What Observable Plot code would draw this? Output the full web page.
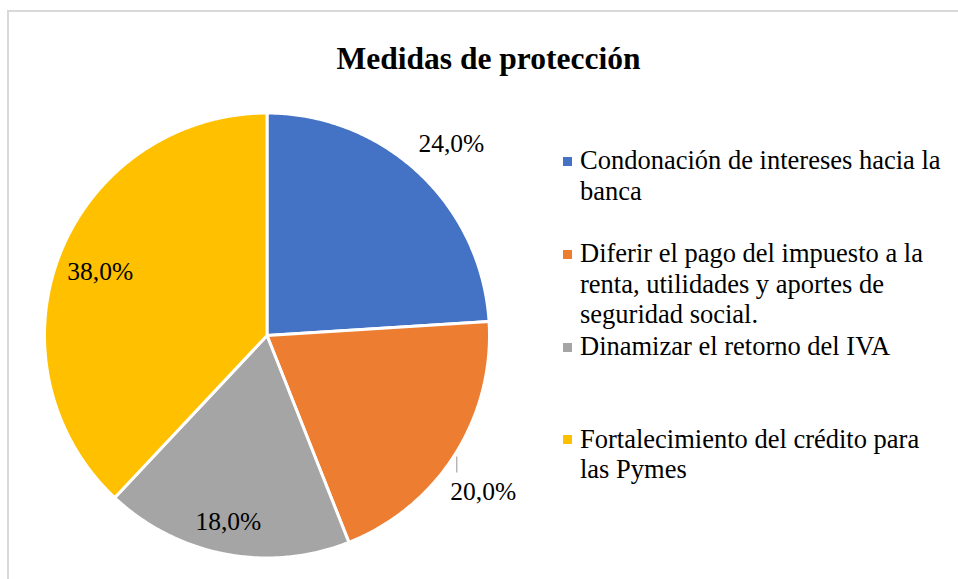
<!DOCTYPE html>
<html><head><meta charset="utf-8">
<script src="https://cdn.jsdelivr.net/npm/d3@7"></script>
<script src="https://cdn.jsdelivr.net/npm/@observablehq/plot@0.6"></script>
<style>
body{margin:0;background:#fff;overflow:hidden}
#wrap{position:relative;width:958px;height:579px;overflow:hidden;font-family:"Liberation Serif","Times New Roman",serif;background:#fff}
#frame{position:absolute;left:7px;top:10px;width:1000px;height:1000px;border:2px solid #d9d9d9;box-sizing:border-box}
#title{position:absolute;left:0;width:977px;text-align:center;font-weight:bold;font-size:31.5px;line-height:31.5px;top:42.6px;color:#000;white-space:nowrap}
.leg{position:absolute;left:580px;width:367px;font-size:26.5px;line-height:30.5px;color:#000}
.sw{position:absolute;left:563px;width:9px;height:9px}
#wrap svg{position:absolute;left:0;top:0}
</style></head><body><div id="wrap"><div id="frame"></div></div>
<script>
// ---- data ----
const title = "Medidas de protección";
const categories = [
  "Condonación de intereses hacia la banca",
  "Diferir el pago del impuesto a la renta, utilidades y aportes de seguridad social.",
  "Dinamizar el retorno del IVA",
  "Fortalecimiento del crédito para las Pymes"
];
const values = [24.0, 20.0, 18.0, 38.0];

// ---- style / layout config ----
const colors = ["#4472C4", "#ED7D31", "#A5A5A5", "#FFC000"];
const R = 222.5;
const labelPlacement = [
  {r: 1.195, da: 0.7, leader: false},
  {r: 1.2, da: 3.5, leader: true},
  {r: 0.855, da: 0.9, leader: false},
  {r: 0.803, da: -0.6, leader: false}
];
const fmt = v => d3.format(".1f")(v).replace(".", ",") + "%";

const arcs = d3.pie().sort(null).value(d => d)(values);
const slices = [];
arcs.forEach((p, i) => {
  const cat = categories[i];
  slices.push({cat, x: 0, y: 0});
  const n = Math.max(2, Math.ceil((p.endAngle - p.startAngle) / (Math.PI / 360)));
  for (let k = 0; k <= n; k++) {
    const a = p.startAngle + (p.endAngle - p.startAngle) * k / n;
    slices.push({cat, x: Math.sin(a), y: Math.cos(a)});
  }
  slices.push({cat, x: 0, y: 0});
});
const labels = arcs.map((p, i) => {
  const pl = labelPlacement[i];
  const a = (p.startAngle + p.endAngle) / 2 + pl.da * Math.PI / 180;
  return {x: pl.r * Math.sin(a), y: pl.r * Math.cos(a), text: fmt(values[i]), leader: pl.leader};
});
const leaders = labels.filter(d => d.leader).map(d => ({
  x1: d.x - 26.5 / R, y1: d.y + 35.5 / R, x2: d.x - 26.5 / R, y2: d.y + 19.5 / R
}));

const cx = 266.5, cy = 335;
const chart = Plot.plot({
  width: 958, height: 579, margin: 0,
  style: {background: "none", overflow: "visible"},
  x: {domain: [-1, 1], range: [cx - R, cx + R], axis: null},
  y: {domain: [-1, 1], range: [cy + R, cy - R], axis: null},
  color: {domain: categories, range: colors},
  marks: [
    Plot.line(slices, {x: "x", y: "y", z: "cat", fill: "cat", stroke: "white", strokeWidth: 3, strokeLinejoin: "round", curve: "linear"}),
    Plot.link(leaders, {x1: "x1", y1: "y1", x2: "x2", y2: "y2", stroke: "#a6a6a6", strokeWidth: 1.2}),
    Plot.text(labels, {x: "x", y: "y", text: "text", fill: "black", fontSize: 25.5, fontFamily: "Liberation Serif, Times New Roman, serif", textAnchor: "middle", lineAnchor: "middle"})
  ]
});
const wrap = document.getElementById("wrap");
wrap.appendChild(chart);

const t = document.createElement("div");
t.id = "title"; t.textContent = title;
wrap.appendChild(t);

// legend
const firstBaseline = 169.5, step = 92.8, baseOff = 24.2;
categories.forEach((c, i) => {
  const b = firstBaseline + i * step;
  const sw = document.createElement("div");
  sw.className = "sw";
  sw.style.top = (b - 12.5) + "px";
  sw.style.background = colors[i];
  wrap.appendChild(sw);
  const d = document.createElement("div");
  d.className = "leg";
  d.style.top = (b - baseOff) + "px";
  d.textContent = c;
  wrap.appendChild(d);
});
</script>
</body></html>
